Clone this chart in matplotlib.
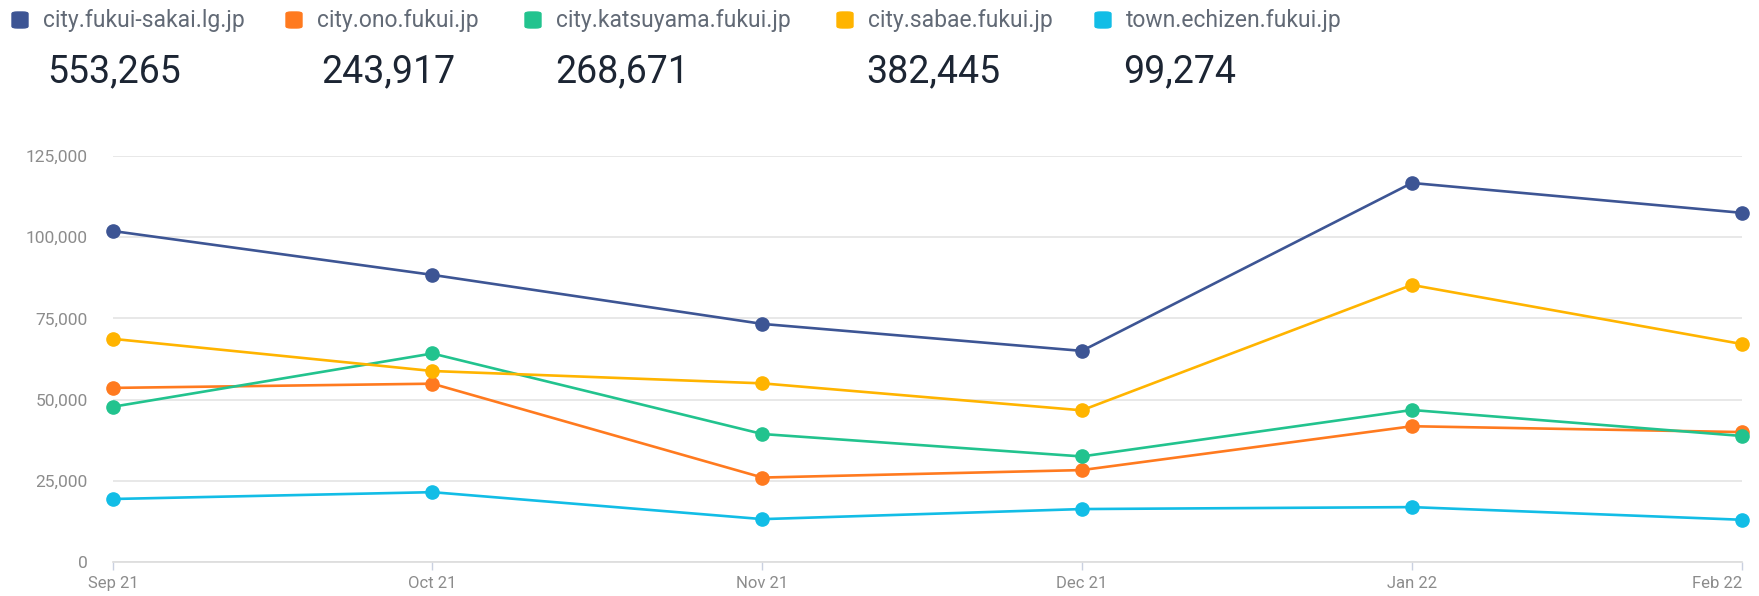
import datetime as dt
import numpy as np
import matplotlib.pyplot as plt
from matplotlib.patches import FancyBboxPatch
from matplotlib.ticker import FuncFormatter

# data
months = [dt.date(2021, 9, 1), dt.date(2021, 10, 1), dt.date(2021, 11, 1),
          dt.date(2021, 12, 1), dt.date(2022, 1, 1), dt.date(2022, 2, 1)]
month_labels = ["Sep 21", "Oct 21", "Nov 21", "Dec 21", "Jan 22", "Feb 22"]
names = ["city.fukui-sakai.lg.jp", "city.ono.fukui.jp", "city.katsuyama.fukui.jp",
         "city.sabae.fukui.jp", "town.echizen.fukui.jp"]
totals = [553265, 243917, 268671, 382445, 99274]
sakai = [101900, 88400, 73300, 65000, 116700, 107500]
ono = [53600, 54900, 26000, 28300, 41800, 40000]
katsuyama = [47800, 64200, 39400, 32500, 46800, 38800]
sabae = [68700, 58800, 55000, 46700, 85300, 67100]
echizen = [19400, 21500, 13200, 16300, 16900, 13000]
series = [sakai, ono, katsuyama, sabae, echizen]
colors = ["#3d5594", "#ff7a1f", "#22c38e", "#ffb400", "#12bde6"]

plt.rcParams['font.family'] = ['Roboto', 'DejaVu Sans']

W, H = 1759, 596
fig = plt.figure(figsize=(W / 100, H / 100), dpi=100)
ax = fig.add_axes([113 / W, 34 / H, (1742 - 113) / W, (562 - 156) / H])

for vals, c in zip(series, colors):
    ax.plot(months, vals, color=c, lw=1.9, marker="o", ms=9.5, clip_on=False, zorder=3)

ax.set_xlim(months[0], months[-1])
ax.set_ylim(0, 125000)
ax.set_yticks(np.arange(0, 125001, 25000))
ax.yaxis.set_major_formatter(FuncFormatter(lambda v, p: f"{int(v):,}"))
ax.set_xticks(months)
ax.set_xticklabels(month_labels)
ax.get_xticklabels()[-1].set_horizontalalignment("right")

ax.grid(axis="y", color="#e4e4e4", lw=1.2)
ax.set_axisbelow(True)
for s in ["top", "right", "left"]:
    ax.spines[s].set_visible(False)
ax.spines["bottom"].set_color("#dcdcdc")
ax.spines["bottom"].set_linewidth(1.2)
ax.tick_params(axis="y", length=0, pad=18, labelsize=12.5, labelcolor="#8c8c8c")
ax.tick_params(axis="x", length=6, color="#c9d0e0", width=1, pad=4,
               labelsize=12, labelcolor="#8c8c8c")

# legend row and totals
txt_x = [43, 317, 556, 868, 1126]
num_x = [47, 321, 555, 866, 1123]
for i in range(len(names)):
    fig.patches.append(FancyBboxPatch(((txt_x[i] - 31) / W, 1 - 28 / H), 16 / W, 16 / H,
                                      boxstyle="round,pad=0,rounding_size=0.003",
                                      transform=fig.transFigure, color=colors[i],
                                      figure=fig))
    fig.text(txt_x[i] / W, 1 - 20 / H, names[i], fontsize=16.5, color="#626a76",
             va="center", ha="left")
    fig.text(num_x[i] / W, 1 - 72 / H, f"{totals[i]:,}", fontsize=27, color="#1c2533",
             va="center", ha="left")

fig.savefig("out.png", dpi=100)
